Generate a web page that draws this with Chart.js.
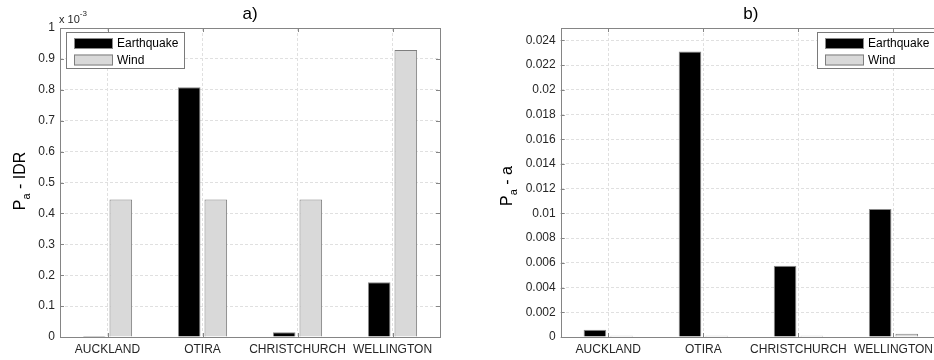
<!DOCTYPE html>
<html>
<head>
<meta charset="utf-8">
<script src="https://cdn.jsdelivr.net/npm/chart.js@4.4.1/dist/chart.umd.min.js"></script>
<style>
html, body { margin: 0; padding: 0; overflow: hidden; background: #fff; }
#wrap { position: relative; width: 934px; height: 360px; overflow: hidden; }
.box { position: absolute; top: 0; height: 360px; }
#boxA { left: 0; width: 470px; }
#boxB { left: 480px; width: 490px; }
</style>
</head>
<body>
<div id="wrap">
  <div class="box" id="boxA"><canvas id="chartA"></canvas></div>
  <div class="box" id="boxB"><canvas id="chartB"></canvas></div>
</div>
<script>
// data
const sites = ['AUCKLAND', 'OTIRA', 'CHRISTCHURCH', 'WELLINGTON'];

// a) P_a - IDR, in units of 10^-3
const idrQuake = [0.003, 0.808, 0.015, 0.177];
const idrWind = [0.445, 0.445, 0.445, 0.929];
const idrTicks = [0, 0.1, 0.2, 0.3, 0.4, 0.5, 0.6, 0.7, 0.8, 0.9, 1];

// b) P_a - a
const accQuake = [0.00058, 0.0231, 0.00577, 0.01036];
const accWind = [0.00011, 0.00011, 0.00011, 0.00027];
const accTicks = [0, 0.002, 0.004, 0.006, 0.008, 0.01, 0.012, 0.014, 0.016, 0.018, 0.02, 0.022, 0.024];

const FONT = '"Liberation Sans", Arial, Helvetica, sans-serif';
const TXT = '#262626';
const FRAME = '#858585';
const GRID = '#e0e0e0';

// frame, inward ticks, titles, legend (matlab look)
const matlabFrame = {
    id: 'matlabFrame',
    afterDraw(chart, args, opts) {
        const ctx = chart.ctx;
        const a = chart.chartArea;
        const xs = chart.scales.x, ys = chart.scales.y;
        ctx.save();
        ctx.setLineDash([]);
        ctx.strokeStyle = FRAME;
        ctx.lineWidth = 1;

        // inward tick marks
        ctx.beginPath();
        ys.ticks.forEach(t => {
            const y = Math.round(ys.getPixelForValue(t.value)) + 0.5;
            ctx.moveTo(a.left, y); ctx.lineTo(a.left + 4, y);
            ctx.moveTo(a.right, y); ctx.lineTo(a.right - 4, y);
        });
        sites.forEach((s, i) => {
            const x = Math.round(xs.getPixelForValue(i)) + 0.5;
            ctx.moveTo(x, a.bottom); ctx.lineTo(x, a.bottom - 4);
            ctx.moveTo(x, a.top); ctx.lineTo(x, a.top + 4);
        });
        ctx.stroke();

        // axes box
        ctx.strokeRect(Math.round(a.left) + 0.5, Math.round(a.top) + 0.5,
            Math.round(a.right - a.left), Math.round(a.bottom - a.top));

        // title
        ctx.fillStyle = '#000';
        ctx.font = '17px ' + FONT;
        ctx.textAlign = 'center';
        ctx.textBaseline = 'alphabetic';
        ctx.fillText(opts.title, (a.left + a.right) / 2, 19);

        // y label with subscript
        ctx.save();
        ctx.translate(opts.labelX, opts.labelY);
        ctx.rotate(-Math.PI / 2);
        ctx.textAlign = 'left';
        const big = '16px ' + FONT, small = '11px ' + FONT;
        ctx.font = big; const wP = ctx.measureText('P').width;
        const wRest = ctx.measureText(opts.yRest).width;
        ctx.font = small; const wa = ctx.measureText('a').width;
        let x0 = -(wP + wa + wRest) / 2;
        ctx.font = big; ctx.fillText('P', x0, 0);
        ctx.font = small; ctx.fillText('a', x0 + wP, 5);
        ctx.font = big; ctx.fillText(opts.yRest, x0 + wP + wa, 0);
        ctx.restore();

        ctx.textAlign = 'left';

        // exponent label
        if (opts.exponent) {
            ctx.fillStyle = TXT;
            ctx.font = '11px ' + FONT;
            ctx.fillText('x 10', a.left - 1, 23);
            const w = ctx.measureText('x 10').width;
            ctx.font = '8px ' + FONT;
            ctx.fillText(opts.exponent, a.left - 1 + w, 16);
        }

        // legend
        const lw = 118, lh = 36;
        const lx = opts.legendSide === 'left' ? Math.round(a.left) + 6 : Math.round(a.right) - 6 - lw;
        const ly = Math.round(a.top) + 4;
        ctx.fillStyle = '#fff';
        ctx.fillRect(lx, ly, lw, lh);
        ctx.strokeStyle = '#7a7a7a';
        ctx.strokeRect(lx + 0.5, ly + 0.5, lw, lh);
        ctx.font = '12px ' + FONT;
        ctx.textBaseline = 'middle';
        chart.data.datasets.forEach((ds, i) => {
            const sy = ly + 6 + i * 16.5;
            ctx.fillStyle = ds.backgroundColor;
            ctx.fillRect(lx + 8, sy, 39, 11);
            ctx.strokeStyle = ds.borderColor;
            ctx.strokeRect(lx + 8.5, sy + 0.5, 38, 10);
            ctx.fillStyle = '#000';
            ctx.fillText(ds.label, lx + 51, sy + 6);
        });
        ctx.restore();
    }
};

function makeChart(id, quake, wind, ticks, yMax, yWidth, padRight, frameOpts) {
    return new Chart(document.getElementById(id), {
        type: 'bar',
        data: {
            labels: sites,
            datasets: [
                { label: 'Earthquake', data: quake, backgroundColor: '#000000', borderColor: '#8a8a8a', borderWidth: 1 },
                { label: 'Wind', data: wind, backgroundColor: '#d9d9d9', borderColor: '#7f7f7f', borderWidth: 1 }
            ]
        },
        options: {
            responsive: true,
            maintainAspectRatio: false,
            animation: false,
            datasets: { bar: { categoryPercentage: 0.56, barPercentage: 0.85 } },
            layout: { padding: { top: 28, left: 0, right: padRight, bottom: 0 } },
            plugins: { legend: { display: false }, tooltip: { enabled: false }, matlabFrame: frameOpts },
            scales: {
                x: {
                    offset: true,
                    grid: { offset: false, color: GRID, drawTicks: false },
                    border: { display: false, dash: [3, 2] },
                    ticks: {
                        padding: 5, color: TXT, font: { family: FONT, size: 12 },
                        maxRotation: 0, minRotation: 0, autoSkip: false
                    },
                    afterFit: s => { s.height = 23; }
                },
                y: {
                    min: 0,
                    max: yMax,
                    grid: { color: GRID, drawTicks: false },
                    border: { display: false, dash: [3, 2] },
                    ticks: {
                        padding: 5, color: TXT, font: { family: FONT, size: 12 },
                        callback: v => String(+v.toFixed(4))
                    },
                    afterBuildTicks: s => { s.ticks = ticks.map(v => ({ value: v })); },
                    afterFit: s => { s.width = yWidth; }
                }
            }
        },
        plugins: [matlabFrame]
    });
}

makeChart('chartA', idrQuake, idrWind, idrTicks, 1, 60, 30,
    { title: 'a)', yRest: ' - IDR', labelX: 25, labelY: 181, legendSide: 'left', exponent: '-3' });
makeChart('chartB', accQuake, accWind, accTicks, 0.025, 80.7, 29,
    { title: 'b)', yRest: ' - a', labelX: 32, labelY: 186, legendSide: 'right', exponent: null });
</script>
</body>
</html>
